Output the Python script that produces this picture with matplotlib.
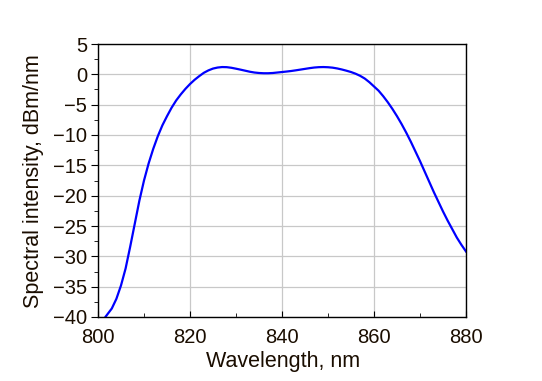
import matplotlib
matplotlib.use("Agg")
import matplotlib.pyplot as plt
from matplotlib.ticker import MultipleLocator

plt.rcParams['font.family'] = ['Liberation Sans', 'DejaVu Sans']

wavelength = [801.0, 801.6, 802, 803, 804, 805, 806, 807, 808, 809,
              810, 811, 812, 813, 814, 815, 816, 817, 818, 819,
              820, 821, 822, 823, 824, 825, 826, 827, 828, 829,
              830, 831, 832, 833, 834, 835, 836, 837, 838, 839,
              840, 841, 842, 843, 844, 845, 846, 847, 848, 849,
              850, 851, 852, 853, 854, 855, 856, 857, 858, 859,
              860, 861, 862, 863, 864, 865, 866, 867, 868, 869,
              870, 871, 872, 873, 874, 875, 876, 877, 878, 879, 880]
intensity = [-41.0, -40.0, -39.6, -38.6, -37.0, -34.8, -32.0, -28.4, -24.6, -20.8,
             -17.5, -14.7, -12.3, -10.2, -8.4, -6.9, -5.5, -4.3, -3.3, -2.4,
             -1.6, -0.9, -0.3, 0.25, 0.65, 0.95, 1.12, 1.2, 1.18, 1.08,
             0.93, 0.77, 0.6, 0.43, 0.3, 0.22, 0.18, 0.18, 0.22, 0.3,
             0.38, 0.46, 0.55, 0.66, 0.78, 0.9, 1.02, 1.12, 1.18, 1.2,
             1.17, 1.1, 0.97, 0.8, 0.6, 0.38, 0.1, -0.25, -0.7, -1.3,
             -2.0, -2.7, -3.6, -4.6, -5.7, -6.9, -8.2, -9.6, -11.1, -12.7,
             -14.3, -16.0, -17.7, -19.4, -21.0, -22.6, -24.1, -25.5, -26.9, -28.1, -29.2]

xticks = [800, 820, 840, 860, 880]
yticks = [5, 0, -5, -10, -15, -20, -25, -30, -35, -40]

txt = '#1a0d00'

fig = plt.figure(figsize=(5.42, 3.81), dpi=100)
ax = fig.add_axes([98/542, 1-317/381, 368/542, 273/381])
ax.plot(wavelength, intensity, color='#0000ff', lw=1.6, solid_joinstyle='round')
ax.set_xlim(800, 880)
ax.set_ylim(-40, 5)
ax.set_xticks(xticks)
ax.set_yticks(yticks)
ax.xaxis.set_minor_locator(MultipleLocator(10))
ax.yaxis.set_minor_locator(MultipleLocator(2.5))
ax.grid(True, which='major', color='#c8c8c8', lw=0.9)
ax.set_axisbelow(True)
for s in ax.spines.values():
    s.set_linewidth(1.0)
    s.set_color('black')

ax.tick_params(axis='x', which='major', direction='in', length=4, pad=8, labelsize=14.5, labelcolor=txt)
ax.tick_params(axis='x', which='minor', direction='in', length=3)
ax.tick_params(axis='y', which='major', direction='out', length=5, pad=3, labelsize=14.5, labelcolor=txt)
ax.tick_params(axis='y', which='minor', direction='out', length=3)

ax.set_xlabel('Wavelength, nm', fontsize=15.5, color=txt, ha='center', va='center')
ax.set_ylabel('Spectral intensity, dBm/nm', fontsize=15.5, color=txt, ha='center', va='center')
ax.xaxis.set_label_coords(0.503, (317-362)/273)
ax.yaxis.set_label_coords((34-98)/368, 0.5 + (0.5*(317+44) - 181.5)/273)

fig.savefig('out.png', dpi=100)
